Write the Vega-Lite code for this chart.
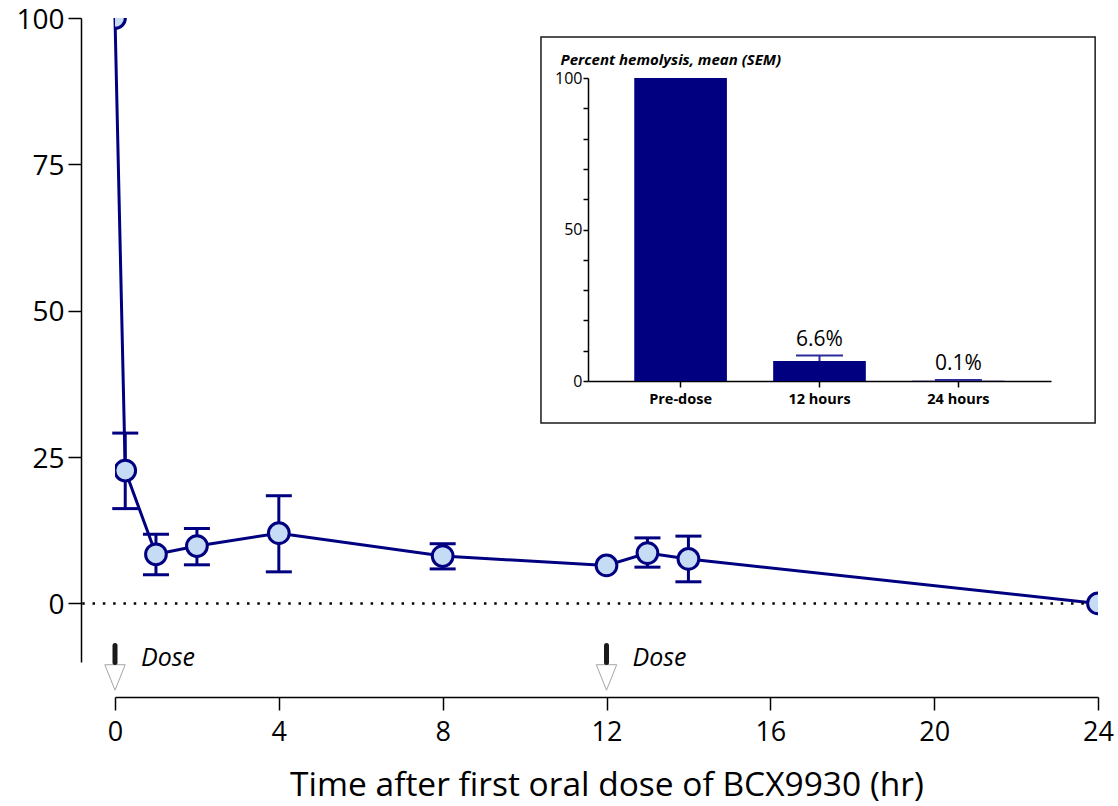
{
  "$schema": "https://vega.github.io/schema/vega-lite/v6.json",
  "width": 983,
  "height": 644,
  "autosize": {"type": "none"},
  "padding": {"left": 115, "top": 18, "right": 20, "bottom": 144},
  "background": "white",
  "config": {"font": "Open Sans", "view": {"stroke": null}, "axis": {"grid": false, "labelColor": "black", "titleColor": "black", "domainColor": "black", "tickColor": "black"}},
  "datasets": {
    "pk": [
      {"t": 0, "v": 100, "lo": null, "hi": null},
      {"t": 0.25, "v": 22.7, "lo": 16.2, "hi": 29.1},
      {"t": 1, "v": 8.4, "lo": 4.9, "hi": 11.8},
      {"t": 2, "v": 9.8, "lo": 6.6, "hi": 12.8},
      {"t": 4, "v": 12.0, "lo": 5.4, "hi": 18.4},
      {"t": 8, "v": 8.1, "lo": 5.9, "hi": 10.2},
      {"t": 12, "v": 6.5, "lo": null, "hi": null},
      {"t": 13, "v": 8.6, "lo": 6.2, "hi": 11.2},
      {"t": 14, "v": 7.6, "lo": 3.7, "hi": 11.5},
      {"t": 24, "v": 0, "lo": null, "hi": null}
    ],
    "dose": [{"t": 0, "label": "Dose"}, {"t": 12, "label": "Dose"}],
    "inset": [
      {"cat": "Pre-dose", "pct": 100, "hi": null, "label": ""},
      {"cat": "12 hours", "pct": 6.6, "hi": 8.4, "label": "6.6%"},
      {"cat": "24 hours", "pct": 0.1, "hi": 0.3, "label": "0.1%"}
    ]
  },
  "layer": [
    {
      "layer": [
        {
          "data": {"name": "pk"},
          "mark": {"type": "line", "color": "#000080", "strokeWidth": 3},
          "encoding": {
            "x": {"field": "t", "type": "quantitative", "title": "Time after first oral dose of BCX9930 (hr)", "scale": {"domain": [0, 24], "nice": false, "zero": false},
              "axis": {"values": [0, 4, 8, 12, 16, 20, 24], "offset": 35, "tickSize": 13, "tickWidth": 1.5, "domainWidth": 1.5, "labelFontSize": 27, "labelPadding": 9, "labelFlush": false, "title": "Time after first oral dose of BCX9930 (hr)", "titleFontSize": 33.5, "titleFontWeight": "normal", "titlePadding": 24}},
            "y": {"field": "v", "type": "quantitative", "title": null, "scale": {"domain": [-10, 100], "nice": false, "zero": false},
              "axis": {"values": [0, 25, 50, 75, 100], "offset": 34, "tickSize": 13, "tickWidth": 1.5, "domainWidth": 1.5, "labelFontSize": 28, "labelPadding": 4, "labelOffset": 2, "title": null}}
          }
        },
        {
          "data": {"values": [{}]},
          "mark": {"type": "rule", "color": "black", "strokeWidth": 2.5, "strokeDash": [2.5, 7.8]},
          "encoding": {"x": {"datum": -0.8}, "x2": {"datum": 24}, "y": {"datum": 0}}
        },
        {
          "data": {"values": [{}]},
          "mark": {"type": "rect", "filled": false, "stroke": "#1a1a1a", "strokeWidth": 1.5},
          "encoding": {"x": {"datum": 10.4}, "x2": {"datum": 23.93}, "y": {"datum": 96.76}, "y2": {"datum": 30.83}}
        },
        {
          "data": {"name": "pk"},
          "transform": [{"filter": "datum.lo != null"}],
          "mark": {"type": "errorbar", "color": "#000080", "opacity": 1, "ticks": {"size": 26, "thickness": 3, "color": "#000080", "opacity": 1}, "rule": {"strokeWidth": 3, "opacity": 1}},
          "encoding": {
            "x": {"field": "t", "type": "quantitative"},
            "y": {"field": "lo", "type": "quantitative", "title": null},
            "y2": {"field": "hi"}
          }
        },
        {
          "data": {"name": "pk"},
          "mark": {"type": "point", "filled": true, "fill": "#c6dbf4", "stroke": "#000080", "strokeWidth": 3, "size": 430, "opacity": 1, "clip": true},
          "encoding": {
            "x": {"field": "t", "type": "quantitative"},
            "y": {"field": "v", "type": "quantitative", "title": null}
          }
        },
        {
          "data": {"name": "dose"},
          "mark": {"type": "point", "shape": "M-0.8,-1L0.8,-1L0,1Z", "size": 650, "filled": true, "fill": "white", "stroke": "#a6a6a6", "strokeWidth": 1, "opacity": 1},
          "encoding": {"x": {"field": "t", "type": "quantitative"}, "y": {"datum": -12.64}}
        },
        {
          "data": {"name": "dose"},
          "mark": {"type": "rule", "color": "#1a1a1a", "strokeWidth": 5, "strokeCap": "round"},
          "encoding": {"x": {"field": "t", "type": "quantitative"}, "y": {"datum": -7.2}, "y2": {"datum": -10.1}}
        },
        {
          "data": {"name": "dose"},
          "mark": {"type": "text", "align": "left", "baseline": "middle", "dx": 26, "fontSize": 25, "fontStyle": "italic", "color": "black"},
          "encoding": {"x": {"field": "t", "type": "quantitative"}, "y": {"datum": -9.3}, "text": {"field": "label"}}
        }
      ]
    },
    {
      "data": {"name": "inset"},
      "layer": [
        {
          "mark": {"type": "bar", "color": "#000080"},
          "encoding": {
            "x": {"field": "cat", "type": "nominal", "title": null, "sort": ["Pre-dose", "12 hours", "24 hours"],
              "scale": {"domain": ["Pre-dose", "12 hours", "24 hours"], "range": [473, 936], "paddingInner": 0.333, "paddingOuter": 0.333},
              "axis": {"orient": "bottom", "offset": -281, "tickSize": 6, "tickWidth": 1.5, "domainWidth": 1.5, "labelFontSize": 14.5, "labelFontWeight": "bold", "labelPadding": 5, "labelAngle": 0, "title": null}},
            "y": {"field": "pct", "type": "quantitative", "title": "Percent hemolysis, mean (SEM)",
              "scale": {"domain": [0, 100], "range": [363, 60], "nice": false},
              "axis": {"orient": "left", "offset": -473, "values": [0, 10, 20, 30, 40, 50, 60, 70, 80, 90, 100], "labelExpr": "datum.value % 50 === 0 ? datum.label : ''", "tickSize": 5, "tickWidth": 1.5, "domainWidth": 1.5, "labelFontSize": 16, "labelPadding": 1,
                "title": "Percent hemolysis, mean (SEM)", "titleAngle": 0, "titleAlign": "left", "titleBaseline": "middle", "titleX": -28, "titleY": 41.6, "titleFontSize": 15, "titleFontWeight": "bold", "titleFontStyle": "italic"}}
          }
        },
        {
          "transform": [{"filter": "datum.hi != null"}],
          "mark": {"type": "rule", "color": "#2b2b99", "strokeWidth": 2},
          "encoding": {
            "x": {"field": "cat", "type": "nominal", "title": null},
            "y": {"field": "pct", "type": "quantitative"},
            "y2": {"field": "hi"}
          }
        },
        {
          "transform": [{"filter": "datum.hi != null"}],
          "mark": {"type": "tick", "color": "#2b2b99", "size": 47, "thickness": 2, "orient": "horizontal", "opacity": 1},
          "encoding": {
            "x": {"field": "cat", "type": "nominal", "title": null},
            "y": {"field": "hi", "type": "quantitative"}
          }
        },
        {
          "transform": [{"filter": "datum.hi != null"}],
          "mark": {"type": "text", "dy": -10, "baseline": "alphabetic", "fontSize": 21, "color": "black"},
          "encoding": {
            "x": {"field": "cat", "type": "nominal", "title": null},
            "y": {"field": "hi", "type": "quantitative"},
            "text": {"field": "label"}
          }
        }
      ]
    }
  ],
  "resolve": {"scale": {"x": "independent", "y": "independent"}, "axis": {"x": "independent", "y": "independent"}}
}
